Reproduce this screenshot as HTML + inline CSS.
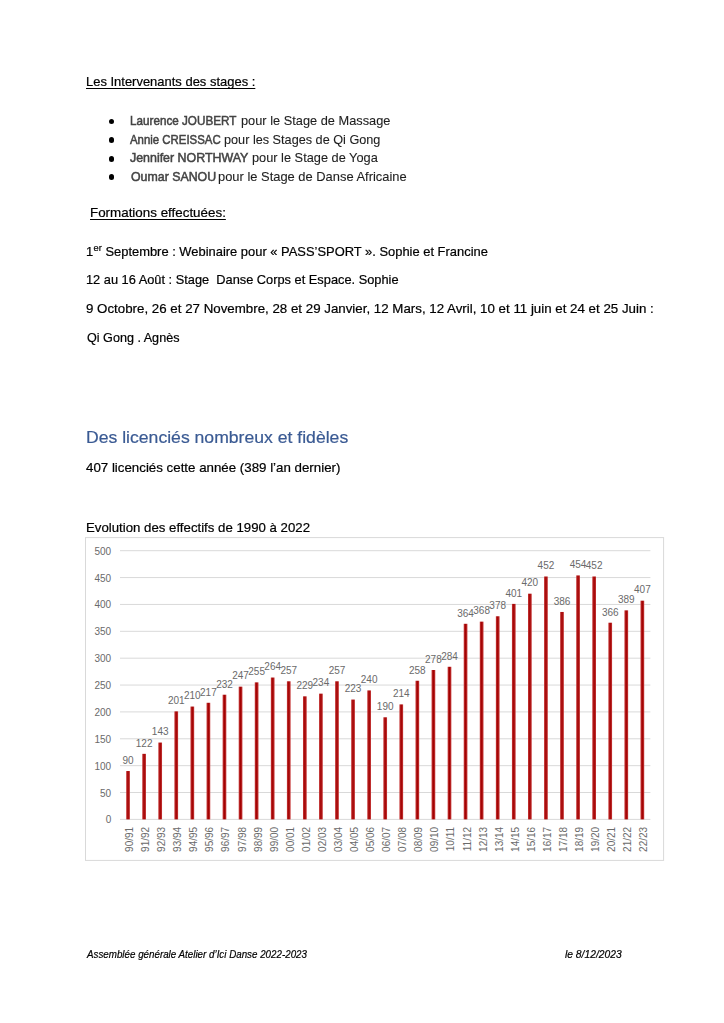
<!DOCTYPE html>
<html><head><meta charset="utf-8">
<style>
html,body{margin:0;padding:0;background:#fff;}
body{width:724px;height:1023px;position:relative;overflow:hidden;font-family:"Liberation Sans",sans-serif;color:#000;}
.t{position:absolute;white-space:pre;line-height:1;transform-origin:0 0;-webkit-text-stroke:0.2px currentColor;}
.u{text-decoration:underline;text-decoration-thickness:1.2px;text-underline-offset:1.8px;}
.n{color:#444;-webkit-text-stroke:0.5px #444;}
.r{color:#1e1e1e;-webkit-text-stroke:0.1px currentColor;}
.h{color:#3a5a93;}
.i{font-style:italic;}
.b{position:absolute;background:#000;border-radius:50%;}
svg{position:absolute;left:0;top:0;}
svg text{font-family:"Liberation Sans",sans-serif;fill:#6a6a6a;}
.ax{font-size:10px;}
.dl{font-size:10px;}
.ct{font-size:10px;}
sup{font-size:0.72em;vertical-align:0;position:relative;top:-0.5em;margin-left:0.04em;}
</style></head><body><div id="w" style="position:absolute;left:0;top:0;width:724px;height:1023px;filter:blur(0.35px);">
<div class="t u" style="left:85.7px;top:76.27px;font-size:12.2px;transform:scaleX(1.0635);">Les Intervenants des stages :</div>
<div class="t n" style="left:129.59px;top:115.37px;font-size:12.2px;transform:scaleX(0.9593);">Laurence JOUBERT</div>
<div class="t r" style="left:241.0px;top:115.37px;font-size:12.2px;transform:scaleX(1.05);">pour le Stage de Massage</div>
<div class="t n" style="left:130.0px;top:134.07px;font-size:12.2px;transform:scaleX(0.9358);">Annie CREISSAC</div>
<div class="t r" style="left:224.43px;top:134.07px;font-size:12.2px;transform:scaleX(1.0399);">pour les Stages de Qi Gong</div>
<div class="t n" style="left:129.6px;top:152.27px;font-size:12.2px;transform:scaleX(1.0181);">Jennifer NORTHWAY</div>
<div class="t r" style="left:251.79px;top:152.27px;font-size:12.2px;transform:scaleX(1.0484);">pour le Stage de Yoga</div>
<div class="t n" style="left:130.93px;top:171.37px;font-size:12.2px;transform:scaleX(1.0135);">Oumar SANOU</div>
<div class="t r" style="left:218.39px;top:171.37px;font-size:12.2px;transform:scaleX(1.0587);">pour le Stage de Danse Africaine</div>
<div class="t u" style="left:90.19px;top:206.87px;font-size:12.2px;transform:scaleX(1.0978);">Formations effectuées:</div>
<div class="t " style="left:86.0px;top:245.87px;font-size:12.2px;transform:scaleX(1.0599);">1<sup>er</sup> Septembre : Webinaire pour « PASS’SPORT ». Sophie et Francine</div>
<div class="t " style="left:86.0px;top:274.47px;font-size:12.2px;transform:scaleX(1.0507);">12 au 16 Août : Stage  Danse Corps et Espace. Sophie</div>
<div class="t " style="left:86.2px;top:303.47px;font-size:12.2px;transform:scaleX(1.0921);">9 Octobre, 26 et 27 Novembre, 28 et 29 Janvier, 12 Mars, 12 Avril, 10 et 11 juin et 24 et 25 Juin :</div>
<div class="t " style="left:86.8px;top:331.87px;font-size:12.2px;transform:scaleX(1.0337);">Qi Gong . Agnès</div>
<div class="t h" style="left:85.71px;top:428.93px;font-size:16.5px;transform:scaleX(1.0667);">Des licenciés nombreux et fidèles</div>
<div class="t " style="left:86.0px;top:462.27px;font-size:12.2px;transform:scaleX(1.0916);">407 licenciés cette année (389 l’an dernier)</div>
<div class="t " style="left:85.99px;top:522.02px;font-size:12.2px;transform:scaleX(1.0851);">Evolution des effectifs de 1990 à 2022</div>
<div class="t i" style="left:86.91px;top:949.80px;font-size:10.4px;transform:scaleX(0.9418);">Assemblée générale Atelier d’Ici Danse 2022-2023</div>
<div class="t i" style="left:564.79px;top:949.80px;font-size:10.4px;transform:scaleX(0.9904);">le 8/12/2023</div>
<div class="b" style="left:108.70px;top:118.70px;width:5.8px;height:5.8px"></div>
<div class="b" style="left:108.70px;top:137.30px;width:5.8px;height:5.8px"></div>
<div class="b" style="left:108.70px;top:155.80px;width:5.8px;height:5.8px"></div>
<div class="b" style="left:108.70px;top:174.20px;width:5.8px;height:5.8px"></div>

<svg width="724" height="1023" viewBox="0 0 724 1023">
<defs><linearGradient id="bg" x1="0" x2="1" y1="0" y2="0"><stop offset="0" stop-color="#c83a3a"/><stop offset="0.5" stop-color="#a00000"/><stop offset="1" stop-color="#c83a3a"/></linearGradient></defs>
<rect x="85.5" y="537.6" width="578.10" height="322.80" fill="#fff" stroke="#d9d9d9" stroke-width="1"/>
<line x1="120" y1="819.40" x2="650.4" y2="819.40" stroke="#d9d9d9" stroke-width="1"/>
<text x="111.2" y="823.40" text-anchor="end" class="ax">0</text>
<line x1="120" y1="792.53" x2="650.4" y2="792.53" stroke="#d9d9d9" stroke-width="1"/>
<text x="111.2" y="796.53" text-anchor="end" class="ax">50</text>
<line x1="120" y1="765.66" x2="650.4" y2="765.66" stroke="#d9d9d9" stroke-width="1"/>
<text x="111.2" y="769.66" text-anchor="end" class="ax">100</text>
<line x1="120" y1="738.79" x2="650.4" y2="738.79" stroke="#d9d9d9" stroke-width="1"/>
<text x="111.2" y="742.79" text-anchor="end" class="ax">150</text>
<line x1="120" y1="711.92" x2="650.4" y2="711.92" stroke="#d9d9d9" stroke-width="1"/>
<text x="111.2" y="715.92" text-anchor="end" class="ax">200</text>
<line x1="120" y1="685.05" x2="650.4" y2="685.05" stroke="#d9d9d9" stroke-width="1"/>
<text x="111.2" y="689.05" text-anchor="end" class="ax">250</text>
<line x1="120" y1="658.18" x2="650.4" y2="658.18" stroke="#d9d9d9" stroke-width="1"/>
<text x="111.2" y="662.18" text-anchor="end" class="ax">300</text>
<line x1="120" y1="631.31" x2="650.4" y2="631.31" stroke="#d9d9d9" stroke-width="1"/>
<text x="111.2" y="635.31" text-anchor="end" class="ax">350</text>
<line x1="120" y1="604.44" x2="650.4" y2="604.44" stroke="#d9d9d9" stroke-width="1"/>
<text x="111.2" y="608.44" text-anchor="end" class="ax">400</text>
<line x1="120" y1="577.57" x2="650.4" y2="577.57" stroke="#d9d9d9" stroke-width="1"/>
<text x="111.2" y="581.57" text-anchor="end" class="ax">450</text>
<line x1="120" y1="550.70" x2="650.4" y2="550.70" stroke="#d9d9d9" stroke-width="1"/>
<text x="111.2" y="554.70" text-anchor="end" class="ax">500</text>
<rect x="126.19" y="771.03" width="3.7" height="48.37" fill="url(#bg)"/>
<text x="128.04" y="763.83" text-anchor="middle" class="dl">90</text>
<text transform="translate(133.04,826.90) rotate(-90)" text-anchor="end" class="ct">90/91</text>
<rect x="142.26" y="753.84" width="3.7" height="65.56" fill="url(#bg)"/>
<text x="144.11" y="746.64" text-anchor="middle" class="dl">122</text>
<text transform="translate(149.11,826.90) rotate(-90)" text-anchor="end" class="ct">91/92</text>
<rect x="158.33" y="742.55" width="3.7" height="76.85" fill="url(#bg)"/>
<text x="160.18" y="735.35" text-anchor="middle" class="dl">143</text>
<text transform="translate(165.18,826.90) rotate(-90)" text-anchor="end" class="ct">92/93</text>
<rect x="174.40" y="711.38" width="3.7" height="108.02" fill="url(#bg)"/>
<text x="176.25" y="704.18" text-anchor="middle" class="dl">201</text>
<text transform="translate(181.25,826.90) rotate(-90)" text-anchor="end" class="ct">93/94</text>
<rect x="190.48" y="706.55" width="3.7" height="112.85" fill="url(#bg)"/>
<text x="192.33" y="699.35" text-anchor="middle" class="dl">210</text>
<text transform="translate(197.33,826.90) rotate(-90)" text-anchor="end" class="ct">94/95</text>
<rect x="206.55" y="702.78" width="3.7" height="116.62" fill="url(#bg)"/>
<text x="208.40" y="695.58" text-anchor="middle" class="dl">217</text>
<text transform="translate(213.40,826.90) rotate(-90)" text-anchor="end" class="ct">95/96</text>
<rect x="222.62" y="694.72" width="3.7" height="124.68" fill="url(#bg)"/>
<text x="224.47" y="687.52" text-anchor="middle" class="dl">232</text>
<text transform="translate(229.47,826.90) rotate(-90)" text-anchor="end" class="ct">96/97</text>
<rect x="238.70" y="686.66" width="3.7" height="132.74" fill="url(#bg)"/>
<text x="240.55" y="679.46" text-anchor="middle" class="dl">247</text>
<text transform="translate(245.55,826.90) rotate(-90)" text-anchor="end" class="ct">97/98</text>
<rect x="254.77" y="682.36" width="3.7" height="137.04" fill="url(#bg)"/>
<text x="256.62" y="675.16" text-anchor="middle" class="dl">255</text>
<text transform="translate(261.62,826.90) rotate(-90)" text-anchor="end" class="ct">98/99</text>
<rect x="270.84" y="677.53" width="3.7" height="141.87" fill="url(#bg)"/>
<text x="272.69" y="670.33" text-anchor="middle" class="dl">264</text>
<text transform="translate(277.69,826.90) rotate(-90)" text-anchor="end" class="ct">99/00</text>
<rect x="286.91" y="681.29" width="3.7" height="138.11" fill="url(#bg)"/>
<text x="288.76" y="674.09" text-anchor="middle" class="dl">257</text>
<text transform="translate(293.76,826.90) rotate(-90)" text-anchor="end" class="ct">00/01</text>
<rect x="302.99" y="696.34" width="3.7" height="123.06" fill="url(#bg)"/>
<text x="304.84" y="689.14" text-anchor="middle" class="dl">229</text>
<text transform="translate(309.84,826.90) rotate(-90)" text-anchor="end" class="ct">01/02</text>
<rect x="319.06" y="693.65" width="3.7" height="125.75" fill="url(#bg)"/>
<text x="320.91" y="686.45" text-anchor="middle" class="dl">234</text>
<text transform="translate(325.91,826.90) rotate(-90)" text-anchor="end" class="ct">02/03</text>
<rect x="335.13" y="681.29" width="3.7" height="138.11" fill="url(#bg)"/>
<text x="336.98" y="674.09" text-anchor="middle" class="dl">257</text>
<text transform="translate(341.98,826.90) rotate(-90)" text-anchor="end" class="ct">03/04</text>
<rect x="351.20" y="699.56" width="3.7" height="119.84" fill="url(#bg)"/>
<text x="353.05" y="692.36" text-anchor="middle" class="dl">223</text>
<text transform="translate(358.05,826.90) rotate(-90)" text-anchor="end" class="ct">04/05</text>
<rect x="367.28" y="690.42" width="3.7" height="128.98" fill="url(#bg)"/>
<text x="369.13" y="683.22" text-anchor="middle" class="dl">240</text>
<text transform="translate(374.13,826.90) rotate(-90)" text-anchor="end" class="ct">05/06</text>
<rect x="383.35" y="717.29" width="3.7" height="102.11" fill="url(#bg)"/>
<text x="385.20" y="710.09" text-anchor="middle" class="dl">190</text>
<text transform="translate(390.20,826.90) rotate(-90)" text-anchor="end" class="ct">06/07</text>
<rect x="399.42" y="704.40" width="3.7" height="115.00" fill="url(#bg)"/>
<text x="401.27" y="697.20" text-anchor="middle" class="dl">214</text>
<text transform="translate(406.27,826.90) rotate(-90)" text-anchor="end" class="ct">07/08</text>
<rect x="415.50" y="680.75" width="3.7" height="138.65" fill="url(#bg)"/>
<text x="417.35" y="673.55" text-anchor="middle" class="dl">258</text>
<text transform="translate(422.35,826.90) rotate(-90)" text-anchor="end" class="ct">08/09</text>
<rect x="431.57" y="670.00" width="3.7" height="149.40" fill="url(#bg)"/>
<text x="433.42" y="662.80" text-anchor="middle" class="dl">278</text>
<text transform="translate(438.42,826.90) rotate(-90)" text-anchor="end" class="ct">09/10</text>
<rect x="447.64" y="666.78" width="3.7" height="152.62" fill="url(#bg)"/>
<text x="449.49" y="659.58" text-anchor="middle" class="dl">284</text>
<text transform="translate(454.49,826.90) rotate(-90)" text-anchor="end" class="ct">10/11</text>
<rect x="463.71" y="623.79" width="3.7" height="195.61" fill="url(#bg)"/>
<text x="465.56" y="616.59" text-anchor="middle" class="dl">364</text>
<text transform="translate(470.56,826.90) rotate(-90)" text-anchor="end" class="ct">11/12</text>
<rect x="479.79" y="621.64" width="3.7" height="197.76" fill="url(#bg)"/>
<text x="481.64" y="614.44" text-anchor="middle" class="dl">368</text>
<text transform="translate(486.64,826.90) rotate(-90)" text-anchor="end" class="ct">12/13</text>
<rect x="495.86" y="616.26" width="3.7" height="203.14" fill="url(#bg)"/>
<text x="497.71" y="609.06" text-anchor="middle" class="dl">378</text>
<text transform="translate(502.71,826.90) rotate(-90)" text-anchor="end" class="ct">13/14</text>
<rect x="511.93" y="603.90" width="3.7" height="215.50" fill="url(#bg)"/>
<text x="513.78" y="596.70" text-anchor="middle" class="dl">401</text>
<text transform="translate(518.78,826.90) rotate(-90)" text-anchor="end" class="ct">14/15</text>
<rect x="528.00" y="593.69" width="3.7" height="225.71" fill="url(#bg)"/>
<text x="529.85" y="586.49" text-anchor="middle" class="dl">420</text>
<text transform="translate(534.85,826.90) rotate(-90)" text-anchor="end" class="ct">15/16</text>
<rect x="544.08" y="576.50" width="3.7" height="242.90" fill="url(#bg)"/>
<text x="545.93" y="569.30" text-anchor="middle" class="dl">452</text>
<text transform="translate(550.93,826.90) rotate(-90)" text-anchor="end" class="ct">16/17</text>
<rect x="560.15" y="611.96" width="3.7" height="207.44" fill="url(#bg)"/>
<text x="562.00" y="604.76" text-anchor="middle" class="dl">386</text>
<text transform="translate(567.00,826.90) rotate(-90)" text-anchor="end" class="ct">17/18</text>
<rect x="576.22" y="575.42" width="3.7" height="243.98" fill="url(#bg)"/>
<text x="578.07" y="568.22" text-anchor="middle" class="dl">454</text>
<text transform="translate(583.07,826.90) rotate(-90)" text-anchor="end" class="ct">18/19</text>
<rect x="592.30" y="576.50" width="3.7" height="242.90" fill="url(#bg)"/>
<text x="594.15" y="569.30" text-anchor="middle" class="dl">452</text>
<text transform="translate(599.15,826.90) rotate(-90)" text-anchor="end" class="ct">19/20</text>
<rect x="608.37" y="622.71" width="3.7" height="196.69" fill="url(#bg)"/>
<text x="610.22" y="615.51" text-anchor="middle" class="dl">366</text>
<text transform="translate(615.22,826.90) rotate(-90)" text-anchor="end" class="ct">20/21</text>
<rect x="624.44" y="610.35" width="3.7" height="209.05" fill="url(#bg)"/>
<text x="626.29" y="603.15" text-anchor="middle" class="dl">389</text>
<text transform="translate(631.29,826.90) rotate(-90)" text-anchor="end" class="ct">21/22</text>
<rect x="640.51" y="600.68" width="3.7" height="218.72" fill="url(#bg)"/>
<text x="642.36" y="593.48" text-anchor="middle" class="dl">407</text>
<text transform="translate(647.36,826.90) rotate(-90)" text-anchor="end" class="ct">22/23</text>
</svg>
</div></body></html>
